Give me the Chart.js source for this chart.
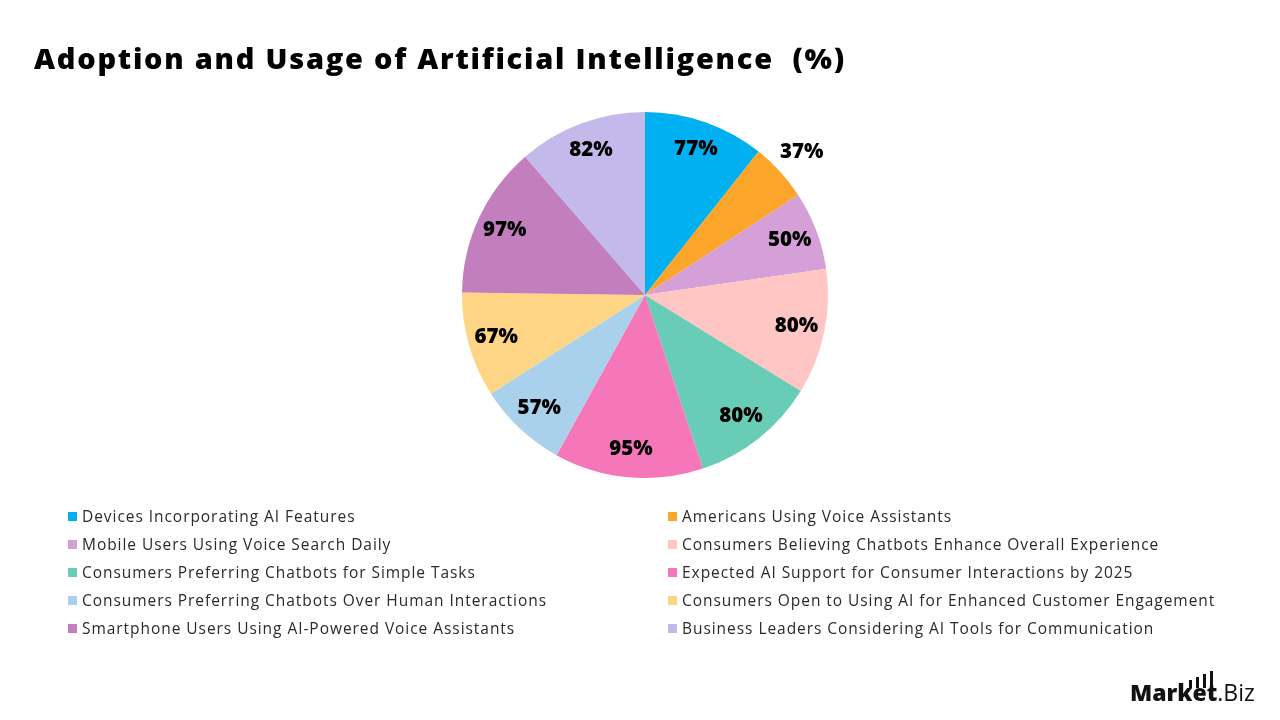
<!DOCTYPE html>
<html>
<head>
<meta charset="utf-8">
<script src="https://cdn.jsdelivr.net/npm/chart.js@4.4.1/dist/chart.umd.min.js"></script>
<style>
  html, body { margin:0; padding:0; background:#fff; }
  #wrap { position:relative; width:1280px; height:720px; overflow:hidden; font-family:"Open Sans", sans-serif; }
  #c { position:absolute; left:0; top:0; }
  #title { position:absolute; left:34px; top:38px; font-size:29px; font-weight:800; color:#000; letter-spacing:1.75px; white-space:nowrap; }
  #legend { position:absolute; left:68px; top:505px; width:1200px; }
  .li { position:absolute; display:flex; align-items:center; font-size:15.5px; color:#2a2a2a; white-space:nowrap; height:22px; letter-spacing:0.95px; }
  .sw { width:9px; height:9px; margin-right:5px; }
  #logo { position:absolute; left:1130px; top:676px; font-size:23px; color:#111; white-space:nowrap; font-family:"Open Sans", sans-serif; }
  #logo b { font-weight:800; }
  .bar { position:absolute; background:#111; width:3px; }
</style>
</head>
<body>
<div id="wrap">
  <canvas id="c" width="1280" height="720"></canvas>
  <div id="title">Adoption and Usage of Artificial Intelligence&nbsp; (%)</div>
  <div id="legend"></div>
  <div id="logo"><b>Market</b>.Biz
    <span class="bar" style="left:59px; top:4px; height:8px;"></span>
    <span class="bar" style="left:66px; top:1px; height:11px;"></span>
    <span class="bar" style="left:73px; top:-2px; height:14px;"></span>
    <span class="bar" style="left:80px; top:-5px; height:22px;"></span>
  </div>
</div>
<script>
const categories = [
  "Devices Incorporating AI Features",
  "Americans Using Voice Assistants",
  "Mobile Users Using Voice Search Daily",
  "Consumers Believing Chatbots Enhance Overall Experience",
  "Consumers Preferring Chatbots for Simple Tasks",
  "Expected AI Support for Consumer Interactions by 2025",
  "Consumers Preferring Chatbots Over Human Interactions",
  "Consumers Open to Using AI for Enhanced Customer Engagement",
  "Smartphone Users Using AI-Powered Voice Assistants",
  "Business Leaders Considering AI Tools for Communication"
];
const values = [77, 37, 50, 80, 80, 95, 57, 67, 97, 82];
const colors = ["#00B0F0", "#FBA52A", "#D59FD8", "#FFC6C3", "#68CCB7", "#F577B9", "#A9D1EC", "#FED585", "#C37EBD", "#C3B9EA"];
const outsideLabels = [1];

const labelPlugin = {
  id: 'sliceLabels',
  afterDatasetsDraw(chart) {
    const ctx = chart.ctx;
    const meta = chart.getDatasetMeta(0);
    ctx.save();
    ctx.font = '800 20.5px "Open Sans", sans-serif';
    ctx.fillStyle = '#000';
    ctx.textAlign = 'center';
    ctx.textBaseline = 'middle';
    meta.data.forEach((arc, i) => {
      const p = arc.getProps(['x','y','startAngle','endAngle','outerRadius'], true);
      const mid = (p.startAngle + p.endAngle) / 2;
      const f = outsideLabels.includes(i) ? 1.16 : 0.845;
      const x = p.x + Math.cos(mid) * p.outerRadius * f;
      const y = p.y + Math.sin(mid) * p.outerRadius * f;
      ctx.fillText(values[i] + '%', x, y);
    });
    ctx.restore();
  }
};

const chart = new Chart(document.getElementById('c'), {
  type: 'pie',
  data: {
    labels: categories,
    datasets: [{ data: values, backgroundColor: colors, borderWidth: 0 }]
  },
  options: {
    responsive: false,
    animation: false,
    layout: { padding: { top: 112, bottom: 242, left: 10, right: 0 } },
    plugins: { legend: { display: false }, title: { display: false }, tooltip: { enabled: false } }
  },
  plugins: [labelPlugin]
});

const legend = document.getElementById('legend');
categories.forEach((c, i) => {
  const col = i % 2, row = Math.floor(i / 2);
  const d = document.createElement('div');
  d.className = 'li';
  d.style.left = (col * 600) + 'px';
  d.style.top = (row * 28) + 'px';
  d.innerHTML = '<span class="sw" style="background:' + colors[i] + '"></span><span>' + c + '</span>';
  legend.appendChild(d);
});
</script>
</body>
</html>
